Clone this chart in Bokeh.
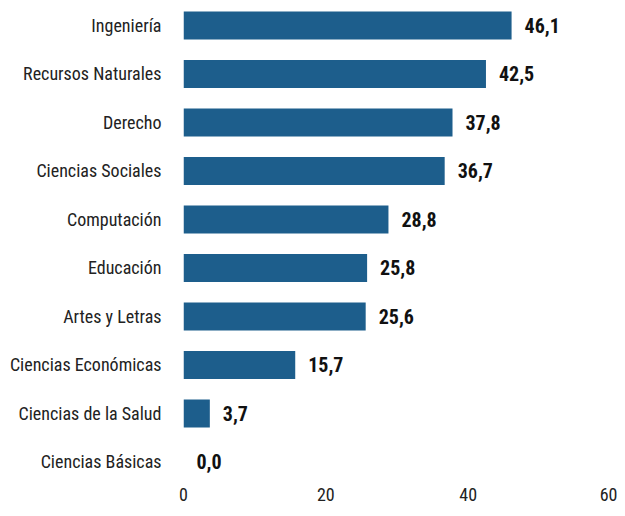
from bokeh.plotting import figure
from bokeh.models import ColumnDataSource, Range1d, FixedTicker
from bokeh.core.properties import value
from bokeh.embed import file_html
from bokeh.resources import INLINE

categories = ["Ingeniería", "Recursos Naturales", "Derecho", "Ciencias Sociales",
              "Computación", "Educación", "Artes y Letras", "Ciencias Económicas",
              "Ciencias de la Salud", "Ciencias Básicas"]
values = [46.1, 42.5, 37.8, 36.7, 28.8, 25.8, 25.6, 15.7, 3.7, 0.0]
x_ticks = [0, 20, 40, 60]

FONT = "Roboto Condensed, Liberation Sans Narrow, Arial Narrow, DejaVu Sans Condensed, sans-serif"
pos = list(range(len(categories)))
src = ColumnDataSource(dict(
    y=pos, v=values,
    lbl=[f"{v:.1f}".replace(".", ",") for v in values],
))

p = figure(width=617, height=508, output_backend="svg", toolbar_location=None,
           x_range=Range1d(0, 60), y_range=Range1d(9.423, -0.515),
           frame_width=427, frame_height=482,
           min_border_left=183, min_border_right=7, min_border_top=0, min_border_bottom=0)
p.outline_line_color = None
p.grid.grid_line_color = None

p.hbar(y="y", right="v", left=0, height=0.577, source=src,
       fill_color="#1d5e8c", line_color=None)
p.text(x="v", y="y", text="lbl", source=src, x_offset=13, text_align="left",
       text_baseline="middle", text_font=value(FONT), text_font_style="bold",
       text_font_size="20px", text_color="#111111")

p.yaxis.ticker = FixedTicker(ticks=pos)
p.yaxis.major_label_overrides = {i: c for i, c in enumerate(categories)}
p.xaxis.ticker = FixedTicker(ticks=x_ticks)
for ax in (p.xaxis, p.yaxis):
    ax.axis_line_color = None
    ax.major_tick_line_color = None
    ax.minor_tick_line_color = None
    ax.major_tick_in = 0
    ax.major_tick_out = 0
    ax.major_label_text_font = FONT
    ax.major_label_text_font_size = "18px"
    ax.major_label_text_color = "#222222"
p.yaxis.major_label_standoff = 22
p.xaxis.major_label_standoff = 5

open("out.html", "w").write(file_html(p, INLINE))
